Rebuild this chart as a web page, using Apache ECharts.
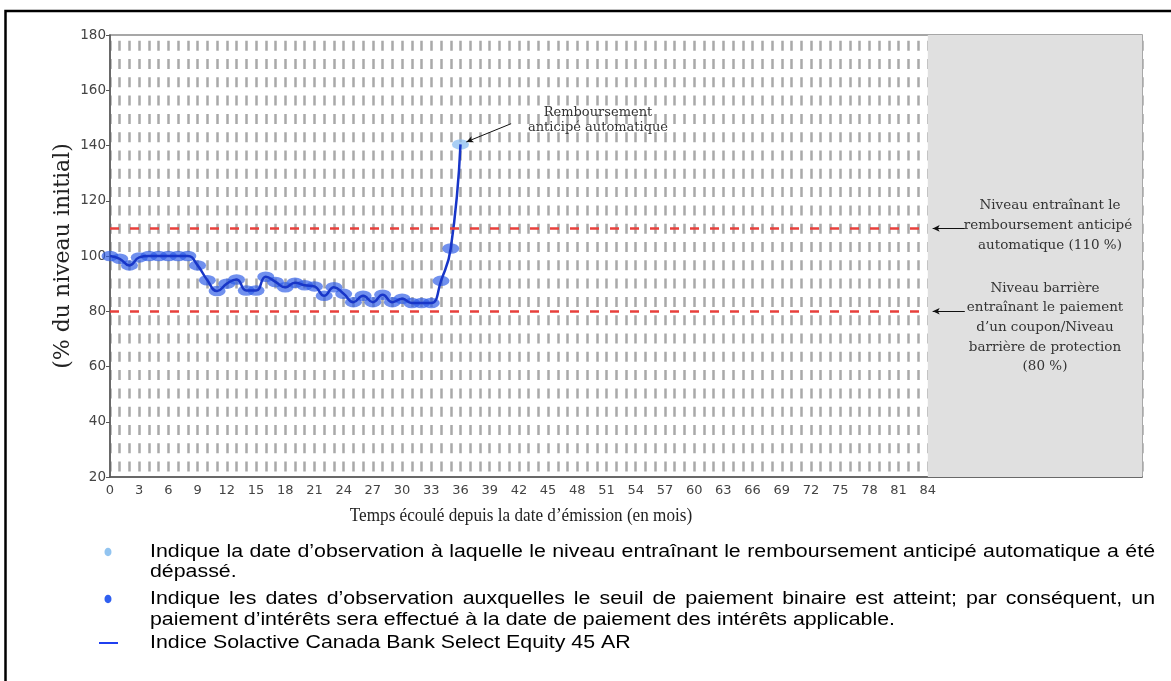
<!DOCTYPE html>
<html><head><meta charset="utf-8">
<script src="https://cdn.jsdelivr.net/npm/echarts@6/dist/echarts.min.js"></script>
<style>html,body{margin:0;padding:0;background:#fff}#c{width:1171px;height:681px}</style>
</head><body><div id="c"></div>
<script>
// ---- data ----
const months = [0,1,2,3,4,5,6,7,8,9,10,11,12,13,14,15,16,17,18,19,20,21,22,23,24,25,26,27,28,29,30,31,32,33,34,35,36];
const indexLevels = [100,99,96.6,99.5,100,100,100,100,100,96.6,91.2,87.3,90,91.5,87.5,87.5,92.5,90.6,88.7,90.3,89.4,89,85.6,88.7,86.3,83.3,85.6,83.3,86,83.3,84.5,83,83,83,91,102.7,140.4];
const autocallMonth = 36;
const autocallLevel = 110;
const barrierLevel = 80;
const termMonths = 84;
const axisMaxMonths = 106;
const yTicks = [20,40,60,80,100,120,140,160,180];
const xLabelStep = 3;
const legendTexts = [
  ["Indique la date d\u2019observation \u00e0 laquelle le niveau entra\u00eenant le remboursement anticip\u00e9 automatique a \u00e9t\u00e9", "d\u00e9pass\u00e9."],
  ["Indique les dates d\u2019observation auxquelles le seuil de paiement binaire est atteint; par cons\u00e9quent, un", "paiement d\u2019int\u00e9r\u00eats sera effectu\u00e9 \u00e0 la date de paiement des int\u00e9r\u00eats applicable."],
  ["Indice Solactive Canada Bank Select Equity 45 AR"]
];
const yTitle = "(% du niveau initial)";
const xTitle = "Temps \u00e9coul\u00e9 depuis la date d\u2019\u00e9mission (en mois)";
const noteAutocall = "Remboursement\nanticip\u00e9 automatique";
const noteUpper = ["Niveau entra\u00eenant le","remboursement anticip\u00e9","automatique (110 %)"];
const noteLower = ["Niveau barri\u00e8re","entra\u00eenant le paiement","d\u2019un coupon/Niveau","barri\u00e8re de protection","(80 %)"];

// ---- build ----
const lineData = months.map((m,i)=>[m, indexLevels[i]]);
const binaryPts = lineData.filter(p=>p[0]!==autocallMonth);
const autocallPts = lineData.filter(p=>p[0]===autocallMonth);

const chart = echarts.init(document.getElementById('c'), null, {renderer:'canvas'});

const GL=110, GT=35, GR=29, GB=204;
const serif = '"DejaVu Serif", serif';
const sans = '"Liberation Sans", Arial, sans-serif';

const graphics = [];
// frame
graphics.push({type:'polyline', shape:{points:[[5.5,681],[5.5,11],[1171,11]]}, style:{stroke:'#000', lineWidth:2.5, fill:null}, z:10});
// axis titles
graphics.push({type:'text', x:63, y:256, rotation:Math.PI/2, style:{text:yTitle, font:'22px '+serif, fill:'#222', textAlign:'center', textVerticalAlign:'middle'}});
graphics.push({type:'text', x:521, y:516, scaleX:0.88, style:{text:xTitle, font:'19.5px "Liberation Serif", serif', fill:'#222', textAlign:'center', textVerticalAlign:'middle'}});
// right notes
noteUpper.forEach((t,i)=>graphics.push({type:'text', x:i===1?1048:1050, y:205+i*20, style:{text:t, font:'13.5px '+serif, fill:'#333', textAlign:'center', textVerticalAlign:'middle'}, z:20}));
noteLower.forEach((t,i)=>graphics.push({type:'text', x:1045, y:288+i*19.7, style:{text:t, font:'13.5px '+serif, fill:'#333', textAlign:'center', textVerticalAlign:'middle'}, z:20}));
// autocall note
graphics.push({type:'text', x:598, y:120, style:{text:noteAutocall, font:'13px '+serif, fill:'#333', textAlign:'center', textVerticalAlign:'middle', lineHeight:15}, z:20});

// legend
const mctx = document.createElement('canvas').getContext('2d');
const legFont = '17.5px '+sans;
const legScale = 1.22;
mctx.font = legFont;
function wordItem(w, x, y){
  return {type:'text', x:x, y:y, scaleX:legScale, style:{text:w, font:legFont, fill:'#000', textVerticalAlign:'middle'}};
}
function justified(text, x0, x1, y){
  const words = text.split(' ');
  const widths = words.map(w=>mctx.measureText(w).width*legScale);
  const total = widths.reduce((a,b)=>a+b,0);
  const gap = (x1-x0-total)/(words.length-1);
  let x = x0;
  words.forEach((w,i)=>{ graphics.push(wordItem(w, x, y)); x += widths[i]+gap; });
}
function plain(text, x, y){ graphics.push(wordItem(text, x, y)); }
justified(legendTexts[0][0], 150, 1155, 552);
plain(legendTexts[0][1], 150, 572);
justified(legendTexts[1][0], 150, 1155, 599);
plain(legendTexts[1][1], 150, 620);
plain(legendTexts[2][0], 150, 643);
graphics.push({type:'ellipse', shape:{cx:108, cy:552, rx:3.5, ry:4.2}, style:{fill:'#92c4f0'}});
graphics.push({type:'ellipse', shape:{cx:108, cy:599, rx:3.5, ry:4.2}, style:{fill:'#2f5ff0'}});
graphics.push({type:'line', shape:{x1:99, y1:643, x2:118, y2:643}, style:{stroke:'#1f3ff0', lineWidth:2}});

const option = {
  animation:false,
  backgroundColor:'#fff',
  grid:{left:GL, top:GT, right:GR, bottom:GB, show:true, borderColor:'#8a8a8a', borderWidth:1.5, backgroundColor:'#fff'},
  xAxis:{type:'value', min:0, max:axisMaxMonths, interval:1,
    axisLine:{show:true, onZero:false, lineStyle:{color:'#555', width:1.5}},
    axisTick:{show:false},
    axisLabel:{color:'#444', fontFamily:'"DejaVu Sans", sans-serif', fontSize:13, margin:7,
      formatter:v=> (v%xLabelStep===0 && v<=termMonths) ? String(v) : ''},
    splitLine:{show:true, lineStyle:{color:'#a9a9a9', width:2.5, type:[10,8.3], dashOffset:12.6}}
  },
  yAxis:{type:'value', min:yTicks[0], max:yTicks[yTicks.length-1], interval:20,
    axisLine:{show:true, lineStyle:{color:'#555', width:1.5}},
    axisTick:{show:true, length:4, lineStyle:{color:'#555'}},
    axisLabel:{color:'#444', fontFamily:'"DejaVu Sans", sans-serif', fontSize:13.5, margin:4},
    splitLine:{show:false}
  },
  graphic:graphics,
  series:[
    {type:'line', data:[], silent:true, z:1,
      markArea:{silent:true, itemStyle:{color:'#e0e0e0', opacity:1}, data:[[{xAxis:termMonths},{xAxis:axisMaxMonths}]]},
      markLine:{silent:true, symbol:'none', label:{show:false},
        lineStyle:{color:'#e8403c', width:2.5, type:[9,11]},
        data:[[{coord:[0,autocallLevel]},{coord:[termMonths,autocallLevel]}],[{coord:[0,barrierLevel]},{coord:[termMonths,barrierLevel]}]]}
    },
    {type:'line', data:[], silent:true, z:5,
      markLine:{silent:true, symbol:['arrow','none'], symbolSize:[5,7], label:{show:false},
        lineStyle:{color:'#111', width:1, type:'solid'},
        data:[[{coord:[84.5,autocallLevel]},{coord:[87.8,autocallLevel]}],
              [{coord:[84.5,barrierLevel]},{coord:[87.8,barrierLevel]}],
              [{coord:[36.6,141.3]},{coord:[41.2,147.9]}]]}
    },
    {name:'binary', type:'scatter', data:binaryPts, symbol:'circle', symbolSize:[17,10.5], z:3,
      itemStyle:{color:'rgba(45,92,230,0.85)'}},
    {name:'autocall', type:'scatter', data:autocallPts, symbol:'circle', symbolSize:[17,10.5], z:3,
      itemStyle:{color:'rgba(140,190,240,0.95)'}},
    {name:'Indice Solactive Canada Bank Select Equity 45 AR', type:'line', data:lineData, smooth:0.5, showSymbol:false, z:4,
      lineStyle:{color:'#1836c8', width:2.5}}
  ]
};
chart.setOption(option);
</script>
</body></html>
